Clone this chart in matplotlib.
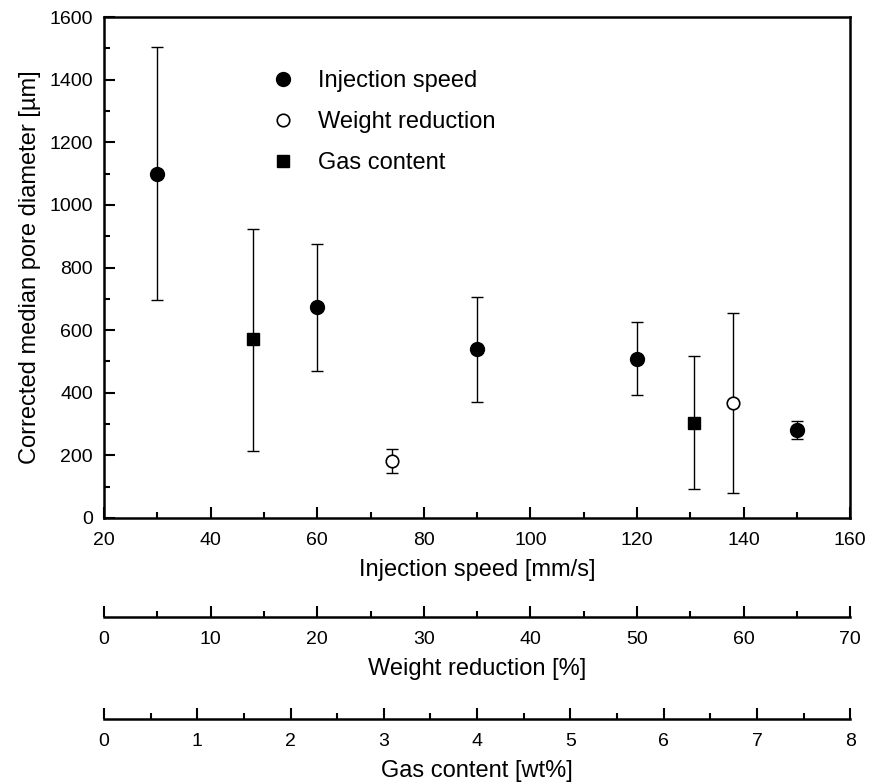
import matplotlib
matplotlib.use('Agg')
import matplotlib.pyplot as plt
from matplotlib.ticker import MultipleLocator

plt.rcParams['font.family'] = ['Liberation Sans', 'DejaVu Sans']

# injection speed series (mm/s)
speed = [30, 60, 90, 120, 150]
speed_d = [1099, 673, 539, 509, 281]
speed_lo = [695, 470, 371, 392, 252]
speed_hi = [1503, 874, 707, 626, 310]

# weight reduction series (%)
weight = [27.0, 59.0]
weight_d = [182, 368]
weight_lo = [145, 81]
weight_hi = [219, 656]

# gas content series (wt%)
gas = [1.60, 6.33]
gas_d = [571, 304]
gas_lo = [215, 92]
gas_hi = [923, 517]


def err(d, lo, hi):
    return [[v - l for v, l in zip(d, lo)], [h - v for v, h in zip(d, hi)]]


fig = plt.figure(figsize=(8.69, 7.84), dpi=100)
ax = fig.add_axes([0.1197, 0.3393, 0.8587, 0.6390])

ax.set_xlim(20, 160)
ax.set_ylim(0, 1600)
ax.xaxis.set_major_locator(MultipleLocator(20))
ax.xaxis.set_minor_locator(MultipleLocator(10))
ax.yaxis.set_major_locator(MultipleLocator(200))
ax.yaxis.set_minor_locator(MultipleLocator(100))
ax.tick_params(which='both', direction='in', top=False, right=False, width=1.5,
               labelsize=14)
ax.tick_params(axis='y', pad=8)
ax.tick_params(axis='x', pad=10)
ax.tick_params(which='major', length=8)
ax.tick_params(which='minor', length=4)
for s in ax.spines.values():
    s.set_linewidth(1.8)
ax.set_xlabel('Injection speed [mm/s]', fontsize=17, labelpad=7)
ax.set_ylabel('Corrected median pore diameter [µm]', fontsize=17, labelpad=6)

# secondary axes for the other two variables
ax_w = ax.twiny()
ax_g = ax.twiny()
for a, lim, maj, mino, off, lab in [(ax_w, (0, 70), 10, 5, 71.3, 'Weight reduction [%]'),
                                     (ax_g, (0, 8), 1, 0.5, 144.7, 'Gas content [wt%]')]:
    a.set_xlim(*lim)
    a.set_ylim(0, 1600)
    a.xaxis.set_ticks_position('bottom')
    a.xaxis.set_label_position('bottom')
    a.spines['bottom'].set_position(('outward', off))
    for k in ['top', 'left', 'right']:
        a.spines[k].set_visible(False)
    a.spines['bottom'].set_linewidth(1.8)
    a.xaxis.set_major_locator(MultipleLocator(maj))
    a.xaxis.set_minor_locator(MultipleLocator(mino))
    a.tick_params(which='both', direction='in', width=1.5, labelsize=14, pad=10)
    a.tick_params(which='major', length=8)
    a.tick_params(which='minor', length=4)
    a.set_xlabel(lab, fontsize=17, labelpad=7)
    a.patch.set_visible(False)

ekw = dict(fmt='none', ecolor='black', elinewidth=1, capsize=4.5, capthick=1, zorder=2)
ax.errorbar(speed, speed_d, yerr=err(speed_d, speed_lo, speed_hi), **ekw)
ax_w.errorbar(weight, weight_d, yerr=err(weight_d, weight_lo, weight_hi), **ekw)
ax_g.errorbar(gas, gas_d, yerr=err(gas_d, gas_lo, gas_hi), **ekw)

h1, = ax.plot(speed, speed_d, 'o', color='black', ms=10, zorder=3, label='Injection speed')
h2, = ax_w.plot(weight, weight_d, 'o', mfc='white', mec='black', mew=1.2, ms=9, zorder=3,
                label='Weight reduction')
h3, = ax_g.plot(gas, gas_d, 's', color='black', ms=9, zorder=3, label='Gas content')

ax_g.legend(handles=[h1, h2, h3], loc='upper left', bbox_to_anchor=(0.195, 0.936),
            frameon=False, fontsize=17, labelspacing=0.8, handletextpad=1.0,
            handlelength=1.0)

fig.savefig('out.png', dpi=100)
